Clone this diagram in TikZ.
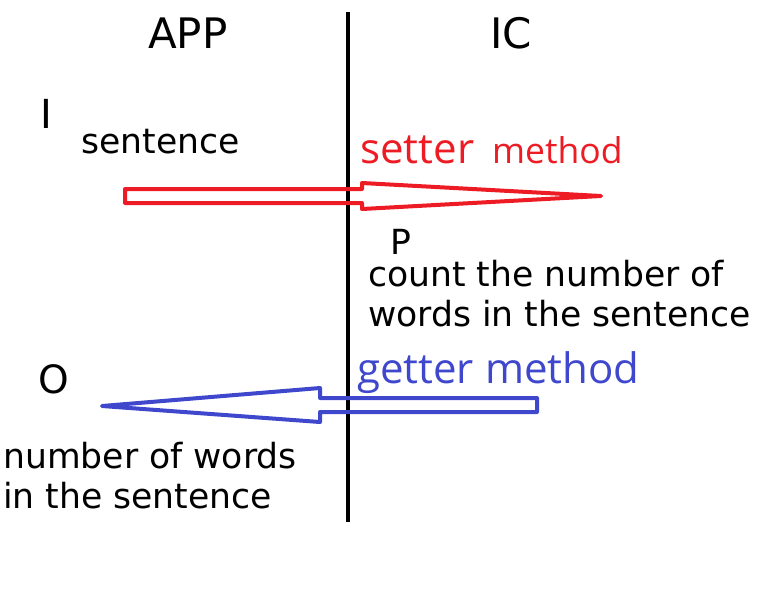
\documentclass[tikz,border=0pt]{standalone}
\usepackage{fontspec}
\setmainfont{DejaVu Sans}
\newfontfamily\methodfont{Open Sans}
\usepackage{tikz}

\definecolor{setred}{RGB}{237,28,36}
\definecolor{getblue}{RGB}{63,72,204}

\begin{document}
\begin{tikzpicture}[x=1pt,y=-1pt,
    every node/.style={inner sep=0pt,anchor=base west},
    head/.style={font=\fontsize{42}{48}\selectfont},
    label/.style={font=\fontsize{34.6}{40}\selectfont,align=left},
    call/.style={font=\methodfont\fontsize{42}{48}\selectfont},
    fatarrow/.style={line width=4pt,line join=round}]
  \useasboundingbox (0,0) rectangle (768,614);
  % columns
  \node[head] (app) at (148,48) {APP};
  \node[head] (ic) at (490,48) {IC};
  \draw[line width=4pt] (348,12) -- (348,522);
  % input side
  \node[font=\fontsize{40}{48}\selectfont] (inp) at (40,128) {I};
  \node[label] (sentence) at (81,153) {sentence};
  \node[call,text=setred] (setter) at (360,163) {setter};
  \node[call,font=\methodfont\fontsize{35.5}{40}\selectfont,text=setred] (setmethod) at (492,163) {method};
  \draw[fatarrow,setred] (125,189) -- (362,189) -- (362,183) -- (601,196)
    -- (362,209) -- (362,203) -- (125,203) -- cycle;
  % processing (multi-line nodes sit on their last baseline)
  \node[label] (proc) at (390,254) {P};
  \node[label] (task) at (368,326) {count the number of\\words in the sentence};
  % output side
  \node[call,text=getblue] (getter) at (357,383) {getter method};
  \node[font=\fontsize{39}{44}\selectfont] (outp) at (38,393) {O};
  \draw[fatarrow,getblue] (537,398) -- (320,398) -- (320,388) -- (102,406)
    -- (320,422) -- (320,412) -- (537,412) -- cycle;
  \node[label] (result) at (3,508) {number of words\\in the sentence};
\end{tikzpicture}
\end{document}
